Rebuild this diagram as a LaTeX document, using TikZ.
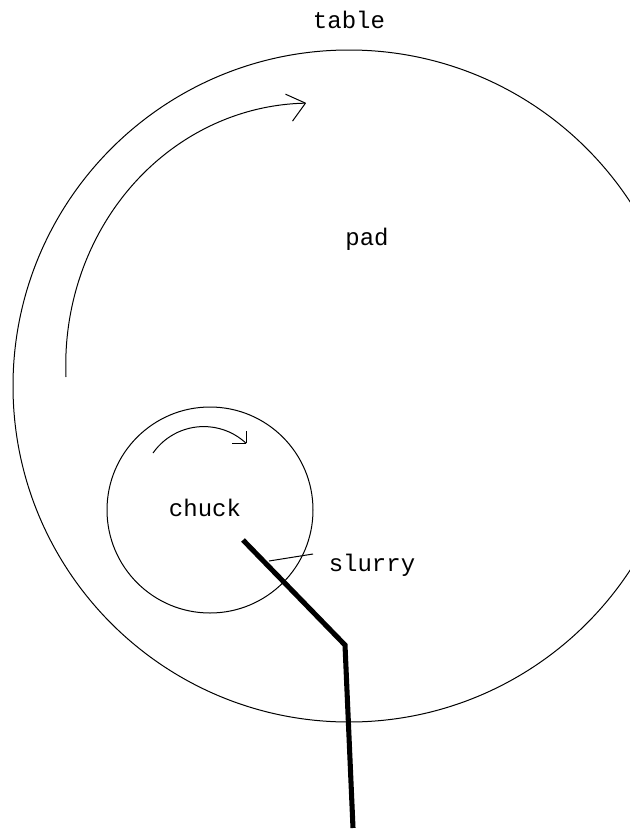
\documentclass[tikz,border=0pt]{standalone}
\usepackage{fontspec}
\setmonofont{Liberation Mono}
\begin{document}
\begin{tikzpicture}[x=0.75pt,y=-0.75pt,
  thinline/.style={line width=0.75pt, draw=black},
  lbl/.style={font=\ttfamily\fontsize{18}{20}\selectfont, anchor=base, inner sep=0pt},
  pipe/.style={line width=3.8pt, draw=black, line join=miter}]
\useasboundingbox (0,0) rectangle (630,832);
\clip (0,0) rectangle (630,832);
\fill[white] (0,0) rectangle (630,832);
% pad / table circle
\node[circle, thinline, minimum size=504pt, inner sep=0pt] (padc) at (349,386) {};
% chuck circle
\node[circle, thinline, minimum size=154.5pt, inner sep=0pt] (chuckc) at (210,510) {};
% labels
\node[lbl] (table) at (349,28) {table};
\node[lbl] (pad) at (367,245) {pad};
\node[lbl] (chuck) at (205,516) {chuck};
\node[lbl] (slurry) at (372,571) {slurry};
% big rotation arrow
\draw[thinline] (66,377) arc[start angle=177.4, end angle=269, x radius=244, y radius=262] coordinate (bigtip);
\draw[thinline] (bigtip) -- ++(-20,-9) (bigtip) -- ++(-13,18);
% small rotation arrow
\draw[thinline] (153,453) arc[start angle=215, end angle=313, radius=62] coordinate (smalltip);
\draw[thinline] (smalltip) -- ++(-14,0) (smalltip) -- ++(0,-12);
% slurry pipe
\coordinate (p1) at (243,540);
\coordinate (p2) at (345,645);
\coordinate (p3) at (353,828);
\draw[pipe] (p1) -- (p2) -- (p3);
% slurry leader
\coordinate (lead) at (269,561);
\coordinate (leadend) at (313,554);
\draw[thinline] (lead) -- (leadend);
\end{tikzpicture}
\end{document}
